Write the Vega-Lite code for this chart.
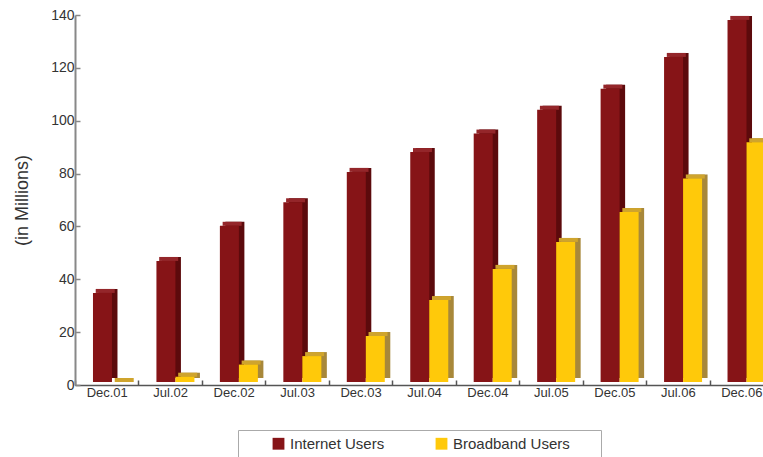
{
  "$schema": "https://vega.github.io/schema/vega-lite/v6.json",
  "width": 698,
  "height": 370,
  "autosize": {"type": "none"},
  "padding": {"left": 75, "top": 15, "right": -10, "bottom": 72},
  "background": "white",
  "config": {"view": {"stroke": null}, "font": "Liberation Sans"},
  "data": {
    "values": [
      {"period": "Dec.01", "series": "Internet Users", "value": 33.7},
      {"period": "Jul.02", "series": "Internet Users", "value": 45.8},
      {"period": "Dec.02", "series": "Internet Users", "value": 59.1},
      {"period": "Jul.03", "series": "Internet Users", "value": 68.0},
      {"period": "Dec.03", "series": "Internet Users", "value": 79.5},
      {"period": "Jul.04", "series": "Internet Users", "value": 87.0},
      {"period": "Dec.04", "series": "Internet Users", "value": 94.0},
      {"period": "Jul.05", "series": "Internet Users", "value": 103.0},
      {"period": "Dec.05", "series": "Internet Users", "value": 111.0},
      {"period": "Jul.06", "series": "Internet Users", "value": 123.0},
      {"period": "Dec.06", "series": "Internet Users", "value": 137.0},
      {"period": "Dec.01", "series": "Broadband Users", "value": 0},
      {"period": "Jul.02", "series": "Broadband Users", "value": 2.0},
      {"period": "Dec.02", "series": "Broadband Users", "value": 6.6},
      {"period": "Jul.03", "series": "Broadband Users", "value": 9.8},
      {"period": "Dec.03", "series": "Broadband Users", "value": 17.4},
      {"period": "Jul.04", "series": "Broadband Users", "value": 31.0},
      {"period": "Dec.04", "series": "Broadband Users", "value": 42.8},
      {"period": "Jul.05", "series": "Broadband Users", "value": 53.0},
      {"period": "Dec.05", "series": "Broadband Users", "value": 64.3},
      {"period": "Jul.06", "series": "Broadband Users", "value": 77.0},
      {"period": "Dec.06", "series": "Broadband Users", "value": 90.7}
    ]
  },
  "encoding": {
    "x": {
      "field": "period",
      "type": "nominal",
      "sort": ["Dec.01", "Jul.02", "Dec.02", "Jul.03", "Dec.03", "Jul.04", "Dec.04", "Jul.05", "Dec.05", "Jul.06", "Dec.06"],
      "scale": {"paddingInner": 0, "paddingOuter": 0},
      "axis": {
        "title": null,
        "labelAngle": 0,
        "labelFontSize": 13,
        "labelColor": "#333333",
        "labelPadding": 6,
        "domainColor": "#555555",
        "domainWidth": 1.5,
        "tickBand": "extent",
        "tickSize": -5,
        "tickColor": "#555555",
        "tickWidth": 1.5,
        "grid": false
      }
    },
    "y": {
      "field": "value",
      "type": "quantitative",
      "scale": {"domain": [0, 140], "nice": false},
      "axis": {
        "title": "(in Millions)",
        "titleFontSize": 18,
        "titleFontWeight": "normal",
        "titleColor": "#333333",
        "titlePadding": 19,
        "labelFontSize": 14,
        "labelColor": "#333333",
        "labelPadding": 6,
        "values": [0, 20, 40, 60, 80, 100, 120, 140],
        "domainColor": "#888888",
        "domainWidth": 2,
        "tickColor": "#888888",
        "tickSize": -5,
        "tickWidth": 1.5,
        "grid": false
      }
    }
  },
  "layer": [
    {
      "transform": [{"filter": "datum.series == 'Internet Users'"}],
      "mark": {"type": "bar", "width": 19, "xOffset": 1.25, "yOffset": -7, "y2Offset": -5},
      "encoding": {"color": {"value": "#5C0A0C"}}
    },
    {
      "transform": [{"filter": "datum.series == 'Internet Users'"}],
      "mark": {"type": "bar", "width": 19, "xOffset": -1.5, "yOffset": -7, "y2Offset": -3},
      "encoding": {"y": {"field": "value", "type": "quantitative"}, "y2": {"field": "value"}, "color": {"value": "#94262A"}}
    },
    {
      "transform": [{"filter": "datum.series == 'Internet Users'"}],
      "mark": {"type": "bar", "width": 19, "xOffset": -4.25, "yOffset": -3, "y2Offset": -3},
      "encoding": {
        "color": {
          "field": "series",
          "type": "nominal",
          "scale": {"domain": ["Internet Users", "Broadband Users"], "range": ["#861417", "#FFC90A"]},
          "legend": {
            "orient": "none",
            "legendX": 163,
            "legendY": 415,
            "direction": "horizontal",
            "title": null,
            "symbolType": "square",
            "symbolSize": 140,
            "symbolStrokeWidth": 0,
            "labelFontSize": 15,
            "labelColor": "#333333",
            "labelOffset": 4,
            "labelLimit": 300,
            "symbolOffset": 27,
            "padding": 6,
            "columnPadding": 22,
            "strokeColor": "#aaaaaa",
            "fillColor": "white",
            "labelExpr": "datum.value == 'Broadband Users' ? datum.label + '\u00a0\u00a0\u00a0\u00a0\u00a0\u00a0\u200b' : datum.label"
          }
        }
      }
    },
    {
      "transform": [{"filter": "datum.series == 'Broadband Users'"}],
      "mark": {"type": "bar", "width": 19, "xOffset": 20.25, "yOffset": -7, "y2Offset": -5},
      "encoding": {"color": {"value": "#A8883A"}}
    },
    {
      "transform": [{"filter": "datum.series == 'Broadband Users'"}],
      "mark": {"type": "bar", "width": 19, "xOffset": 17.5, "yOffset": -7, "y2Offset": -3},
      "encoding": {"y": {"field": "value", "type": "quantitative"}, "y2": {"field": "value"}, "color": {"value": "#CFA42D"}}
    },
    {
      "transform": [{"filter": "datum.series == 'Broadband Users'"}],
      "mark": {"type": "bar", "width": 19, "xOffset": 14.75, "yOffset": -3, "y2Offset": -3},
      "encoding": {
        "color": {
          "field": "series",
          "type": "nominal",
          "scale": {"domain": ["Internet Users", "Broadband Users"], "range": ["#861417", "#FFC90A"]}
        }
      }
    }
  ]
}
